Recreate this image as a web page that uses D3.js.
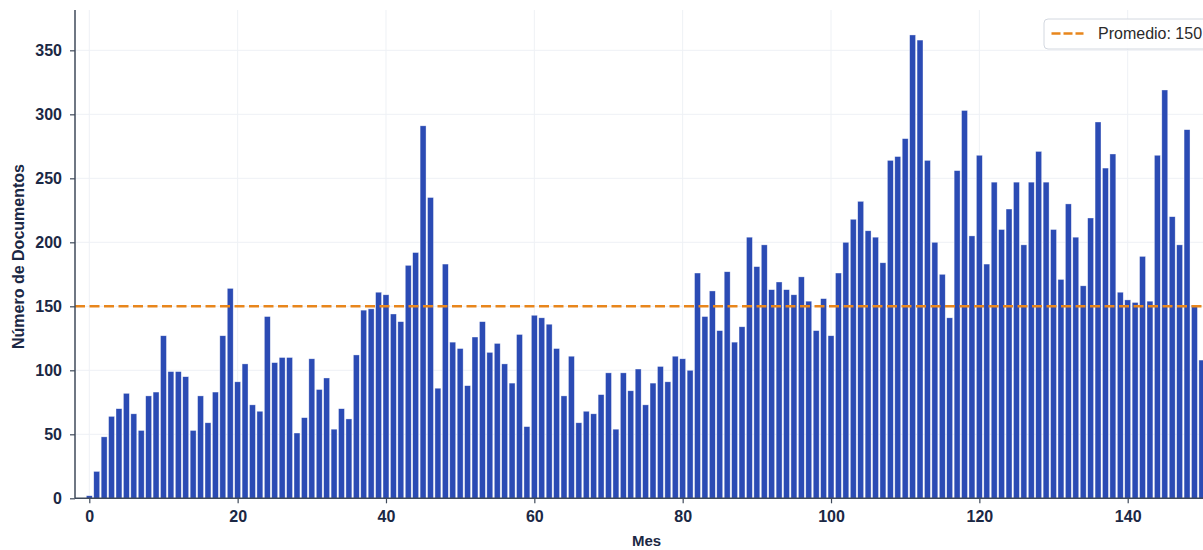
<!DOCTYPE html>
<html>
<head>
<meta charset="utf-8">
<script src="https://cdn.jsdelivr.net/npm/d3@7"></script>
<style>
  body { margin: 0; background: #fff; }
  svg { display: block; font-family: "Liberation Sans", Arial, sans-serif; }
</style>
</head>
<body>
<div id="chart"></div>
<script>
// documents per month, months 0..150
const counts = [
  2, 21, 48, 64, 70, 82, 66, 53, 80, 83,
  127, 99, 99, 95, 53, 80, 59, 83, 127, 164,
  91, 105, 73, 68, 142, 106, 110, 110, 51, 63,
  109, 85, 94, 54, 70, 62, 112, 147, 148, 161,
  159, 144, 138, 182, 192, 291, 235, 86, 183, 122,
  117, 88, 126, 138, 114, 121, 105, 90, 128, 56,
  143, 141, 136, 117, 80, 111, 59, 68, 66, 81,
  98, 54, 98, 84, 101, 73, 90, 103, 91, 111,
  109, 100, 176, 142, 162, 131, 177, 122, 134, 204,
  181, 198, 163, 169, 163, 159, 173, 154, 131, 156,
  127, 176, 200, 218, 232, 209, 204, 184, 264, 267,
  281, 362, 358, 264, 200, 175, 141, 256, 303, 205,
  268, 183, 247, 210, 226, 247, 198, 247, 271, 247,
  210, 171, 230, 204, 166, 219, 294, 258, 269, 161,
  155, 153, 189, 154, 268, 319, 220, 198, 288, 151,
  108
];
const months = counts.map((d, i) => i);
const average = 150;
const yTicks = [0, 50, 100, 150, 200, 250, 300, 350];
const xTicks = [0, 20, 40, 60, 80, 100, 120, 140];
const legendLabel = "Promedio: 150";

const W = 1203, H = 550;
const plotLeft = 75, plotTop = 10, plotBottom = 498.3;
const textColor = "#1b2844";

const svg = d3.select("#chart").append("svg")
  .attr("width", W).attr("height", H);

const x = d3.scaleLinear().domain([0, 140]).range([89.3, 1127.7]);
const y = d3.scaleLinear().domain([0, 381.5]).range([plotBottom, plotTop]);
const step = x(1) - x(0);
const barW = step * 0.8;

// grid
svg.append("g").selectAll("line").data(yTicks).enter().append("line")
  .attr("x1", plotLeft).attr("x2", W)
  .attr("y1", d => y(d)).attr("y2", d => y(d))
  .style("stroke", "#eef1f5").style("stroke-width", 1);
svg.append("g").selectAll("line").data(xTicks).enter().append("line")
  .attr("x1", d => x(d)).attr("x2", d => x(d))
  .attr("y1", plotTop).attr("y2", plotBottom)
  .style("stroke", "#eef1f5").style("stroke-width", 1);

// bars
svg.append("g").selectAll("rect").data(months).enter().append("rect")
  .attr("x", d => x(d) - barW / 2)
  .attr("width", barW)
  .attr("y", d => y(counts[d]))
  .attr("height", d => plotBottom - y(counts[d]))
  .style("fill", "#2b4bb4")
  .style("stroke", "#ffffff")
  .style("stroke-opacity", 0.6)
  .style("stroke-width", 0.6);

// average line
svg.append("line")
  .attr("x1", plotLeft).attr("x2", W)
  .attr("y1", y(average)).attr("y2", y(average))
  .style("stroke", "#e8861c")
  .style("stroke-width", 2.5)
  .style("stroke-dasharray", "10,4.5");

// axes
const yAxis = svg.append("g")
  .attr("transform", `translate(${plotLeft},0)`)
  .call(d3.axisLeft(y).tickValues(yTicks).tickSize(5).tickPadding(8));
const xAxis = svg.append("g")
  .attr("transform", `translate(0,${plotBottom})`)
  .call(d3.axisBottom(x).tickValues(xTicks).tickSize(5).tickPadding(7));

yAxis.select(".domain").attr("d", `M0,${plotTop}V${plotBottom}`);
xAxis.select(".domain").attr("d", `M${plotLeft},0H${W}`);

[yAxis, xAxis].forEach(g => {
  g.select(".domain").style("stroke", "#3f4a5a").style("stroke-width", 1.5);
  g.selectAll(".tick line").style("stroke", "#3f4a5a").style("stroke-width", 1.2);
  g.selectAll(".tick text")
    .style("font-family", "'Liberation Sans', Arial, sans-serif")
    .style("font-size", "16px")
    .style("font-weight", "bold")
    .style("fill", textColor);
});

// axis titles
svg.append("text")
  .attr("x", 646.5)
  .attr("y", 546)
  .attr("text-anchor", "middle")
  .style("font-size", "15px")
  .style("font-weight", "bold")
  .style("fill", textColor)
  .text("Mes");

svg.append("text")
  .attr("transform", "translate(24,256.5) rotate(-90)")
  .attr("text-anchor", "middle")
  .style("font-size", "16px")
  .style("font-weight", "bold")
  .style("fill", textColor)
  .text("Número de Documentos");

// legend
const legend = svg.append("g").attr("transform", "translate(1044,19)");
legend.append("rect")
  .attr("width", 180).attr("height", 30).attr("rx", 4)
  .style("fill", "#ffffff").style("fill-opacity", 0.9)
  .style("stroke", "#d3d8e0").style("stroke-width", 1);
legend.append("line")
  .attr("x1", 7.5).attr("x2", 39.5).attr("y1", 14.5).attr("y2", 14.5)
  .style("stroke", "#e8861c").style("stroke-width", 2.5)
  .style("stroke-dasharray", "9,3");
legend.append("text")
  .attr("x", 54).attr("y", 19.5)
  .style("font-size", "16px")
  .style("fill", "#2a2a2a")
  .text(legendLabel);
</script>
</body>
</html>
